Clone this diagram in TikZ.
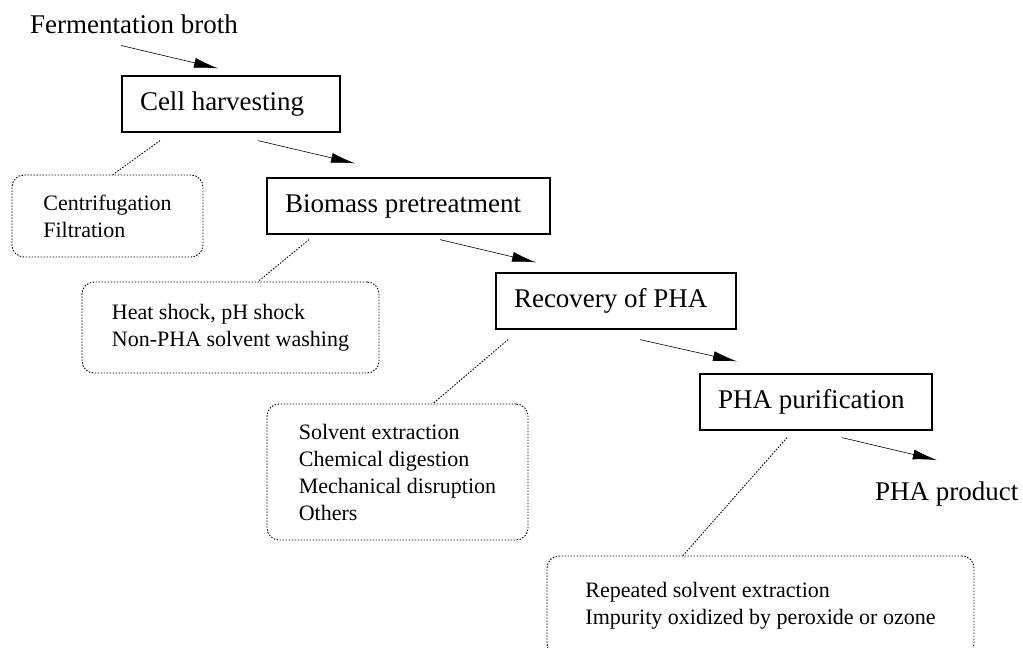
\documentclass[tikz,border=0pt]{standalone}
\usepackage{fontspec}
\setmainfont{Liberation Serif}
\usetikzlibrary{arrows.meta}

\begin{document}
\begin{tikzpicture}[x=1pt, y=-1pt,
    stepbox/.style={draw, line width=1.2pt, minimum height=56pt, inner xsep=18pt,
        align=flush left, font=\fontsize{27}{32}\selectfont},
    label/.style={inner sep=0pt, anchor=base west, font=\fontsize{27}{32}\selectfont},
    note/.style={draw, dash pattern=on 1.5pt off 1.5pt, line width=0.9pt, rounded corners=12pt,
        align=flush left, font=\fontsize{22}{27}\selectfont},
    flow/.style={line width=0.6pt, -{Latex[length=24pt, width=10pt]}},
    link/.style={dash pattern=on 1.5pt off 1.5pt, line width=0.9pt}]
    \useasboundingbox (0,0) rectangle (1023,648);
    \clip (0,0) rectangle (1023,648);
    % Start and end
    \node[label] (broth) at (30,33) {Fermentation broth};
    \node[label] (product) at (875,500) {PHA product};
    % Process steps
    \node[stepbox, text width=182pt] (harvest) at (231,104) {Cell harvesting};
    \node[stepbox, text width=247pt] (pretreat) at (408.5,206) {Biomass pretreatment};
    \node[stepbox, text width=204pt] (recovery) at (616,301) {Recovery of PHA};
    \node[stepbox, text width=196pt] (purify) at (816,402) {PHA purification};
    % Methods for each step
    \node[note, minimum width=191pt, minimum height=82pt] (harvestopt) at (107.5,216)
        {Centrifugation\\Filtration};
    \node[note, minimum width=297pt, minimum height=91pt] (pretreatopt) at (230.5,327.5)
        {Heat shock, pH shock\\Non-PHA solvent washing};
    \node[note, minimum width=261pt, minimum height=136pt] (recoveryopt) at (397.5,472)
        {Solvent extraction\\Chemical digestion\\Mechanical disruption\\Others};
    \node[note, minimum width=427pt, minimum height=100pt] (purifyopt) at (760.5,606)
        {Repeated solvent extraction\\Impurity oxidized by peroxide or ozone};
    % Main flow
    \draw[flow] ([xshift=-13pt, yshift=-12pt]broth.south) -- ([xshift=-13pt, yshift=7pt]harvest.north);
    \draw[flow] ([xshift=27pt, yshift=-8pt]harvest.south) -- ([xshift=-53.5pt, yshift=14pt]pretreat.north);
    \draw[flow] ([xshift=31.5pt, yshift=-5pt]pretreat.south) -- ([xshift=-80pt, yshift=10pt]recovery.north);
    \draw[flow] ([xshift=24pt, yshift=-10pt]recovery.south) -- ([xshift=-79pt, yshift=12pt]purify.north);
    \draw[flow] ([xshift=26pt, yshift=-7pt]purify.south) -- ([xshift=-10pt, yshift=21pt]product.north);
    % Callout links
    \draw[link] ([xshift=-71pt, yshift=-8pt]harvest.south) -- ([xshift=5.5pt]harvestopt.north);
    \draw[link] ([xshift=-99.5pt, yshift=-5pt]pretreat.south) -- ([xshift=27.5pt]pretreatopt.north);
    \draw[link] ([xshift=-108pt, yshift=-10pt]recovery.south) -- ([xshift=35.5pt]recoveryopt.north);
    \draw[link] ([xshift=-29pt, yshift=-7pt]purify.south) -- ([xshift=-77.5pt]purifyopt.north);
\end{tikzpicture}
\end{document}
